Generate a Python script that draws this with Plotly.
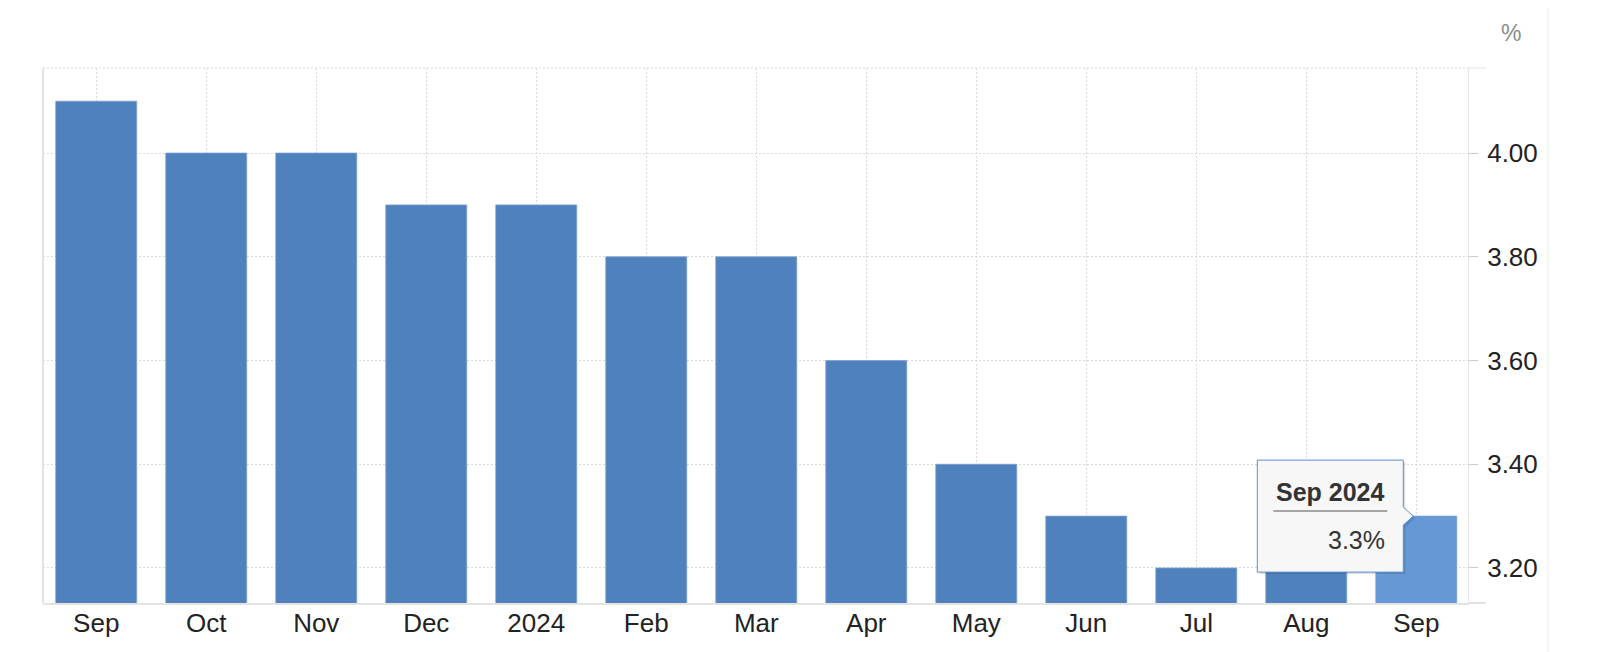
import plotly.graph_objects as go

# ---- data ----
periods = ["2023-09", "2023-10", "2023-11", "2023-12", "2024-01", "2024-02", "2024-03",
           "2024-04", "2024-05", "2024-06", "2024-07", "2024-08", "2024-09"]
tick_labels = ["Sep", "Oct", "Nov", "Dec", "2024", "Feb", "Mar",
               "Apr", "May", "Jun", "Jul", "Aug", "Sep"]
values = [4.1, 4.0, 4.0, 3.9, 3.9, 3.8, 3.8, 3.6, 3.4, 3.3, 3.2, 3.2, 3.3]
y_ticks = [3.2, 3.4, 3.6, 3.8, 4.0]
tooltip_title = "Sep 2024"
tooltip_value = "3.3%"
unit_label = "%"

BASE = "#4f81bd"
HILITE = "#6598d4"
colors = [BASE] * (len(values) - 1) + [HILITE]

fig = go.Figure()
fig.add_trace(go.Bar(
    x=periods, y=values,
    marker=dict(color=colors, line=dict(color="rgba(120,160,210,0.8)", width=1)),
    hoverinfo="skip",
))

# page body has an 8px default margin; work in screen pixels and convert
OFF = 8
W, H = 1600 - OFF, 652 - OFF
L, T = 43 - OFF, 68 - OFF
R = W - (1468 - OFF)
B = H - (603 - OFF)
pw = W - L - R
ph = H - T - B


def px_x(sx):
    return (sx - OFF - L) / pw


def px_y(sy):
    return (H - B - (sy - OFF)) / ph


GRID = "#dadada"
AXIS = "#e3e3e3"
DOTS = "2px,2px"
FONT = "Liberation Sans, Arial, Helvetica, sans-serif"

fig.update_layout(
    width=W, height=H,
    margin=dict(l=L, r=R, t=T, b=B),
    paper_bgcolor="white", plot_bgcolor="white",
    showlegend=False, bargap=0.264,
    hovermode=False,
    font=dict(family=FONT, size=26, color="#222222"),
    xaxis=dict(
        type="category",
        tickvals=periods, ticktext=tick_labels,
        range=[-0.484, 12.47],
        showgrid=True, gridcolor=GRID, griddash=DOTS, gridwidth=1,
        showline=True, linecolor=AXIS, linewidth=2,
        ticks="", ticklen=0, ticklabelstandoff=-4,
        tickfont=dict(size=26, color="#222222"),
        fixedrange=True,
    ),
    yaxis=dict(
        side="right",
        range=[3.1325, 4.164],
        tickvals=y_ticks, tickformat=".2f",
        showgrid=True, gridcolor=GRID, griddash=DOTS, gridwidth=1,
        showline=True, linecolor=AXIS, linewidth=1,
        ticks="outside", ticklen=9, tickcolor="#cccccc",
        ticklabelstandoff=4,
        tickfont=dict(size=26, color="#222222"),
        zeroline=False,
        fixedrange=True,
    ),
)

shapes = []
# frame pieces
shapes.append(dict(type="line", xref="paper", yref="paper", x0=0, x1=1, y0=1, y1=1,
                   line=dict(color=GRID, width=1, dash=DOTS), layer="below"))
shapes.append(dict(type="line", xref="paper", yref="paper", x0=0, x1=0, y0=0, y1=1,
                   line=dict(color=AXIS, width=2)))
shapes.append(dict(type="line", xref="paper", yref="paper", x0=1, x1=px_x(1486), y0=1, y1=1,
                   line=dict(color=AXIS, width=1)))
shapes.append(dict(type="line", xref="paper", yref="paper", x0=1, x1=px_x(1486), y0=0, y1=0,
                   line=dict(color=AXIS, width=2)))
# page side elements
shapes.append(dict(type="line", xref="paper", yref="paper", x0=px_x(1548), x1=px_x(1548),
                   y0=px_y(-10), y1=px_y(700), line=dict(color="#efefef", width=1)))
for (ya, yb) in [(-5, 23), (31, 95), (103, 165), (173, 238), (241, 700)]:
    shapes.append(dict(type="rect", xref="paper", yref="paper",
                       x0=px_x(1597), x1=px_x(1610), y0=px_y(yb), y1=px_y(ya),
                       line=dict(color="#dddddd", width=1), fillcolor="white"))

# tooltip anchored to the last bar
anchor_x = periods[-1]
anchor_y = values[-1]
outline = "M -159 56 L -13 56 L -13 9 L -3 0 L -13 -9 L -13 -56 L -159 -56 Z"
shadow = "M -157 54 L -11 54 L -11 7 L -1 -2 L -11 -11 L -11 -58 L -157 -58 Z"
shapes.append(dict(type="path", xref="x", yref="y", xsizemode="pixel", ysizemode="pixel",
                   xanchor=anchor_x, yanchor=anchor_y, path=shadow,
                   fillcolor="rgba(0,0,0,0.12)", line=dict(width=0)))
shapes.append(dict(type="path", xref="x", yref="y", xsizemode="pixel", ysizemode="pixel",
                   xanchor=anchor_x, yanchor=anchor_y, path=outline,
                   fillcolor="#f7f7f7", line=dict(color="#5a8fd0", width=1)))
shapes.append(dict(type="line", xref="x", yref="y", xsizemode="pixel", ysizemode="pixel",
                   xanchor=anchor_x, yanchor=anchor_y, x0=-143, x1=-29, y0=5, y1=5,
                   line=dict(color="#8a8a8a", width=1.5)))
fig.update_layout(shapes=shapes)

fig.add_annotation(x=anchor_x, y=anchor_y, xref="x", yref="y",
                   text="<b>" + tooltip_title + "</b>", showarrow=False,
                   xanchor="center", yanchor="middle", xshift=-86, yshift=24,
                   font=dict(size=25, color="#333333", family=FONT))
fig.add_annotation(x=anchor_x, y=anchor_y, xref="x", yref="y",
                   text=tooltip_value, showarrow=False,
                   xanchor="right", yanchor="middle", xshift=-29, yshift=-24,
                   font=dict(size=25, color="#333333", family=FONT))
fig.add_annotation(x=px_x(1511), y=px_y(33), xref="paper", yref="paper",
                   text=unit_label, showarrow=False, xanchor="center", yanchor="middle",
                   font=dict(size=23, color="#8c8c8c", family=FONT))

fig.write_html("out.html")
